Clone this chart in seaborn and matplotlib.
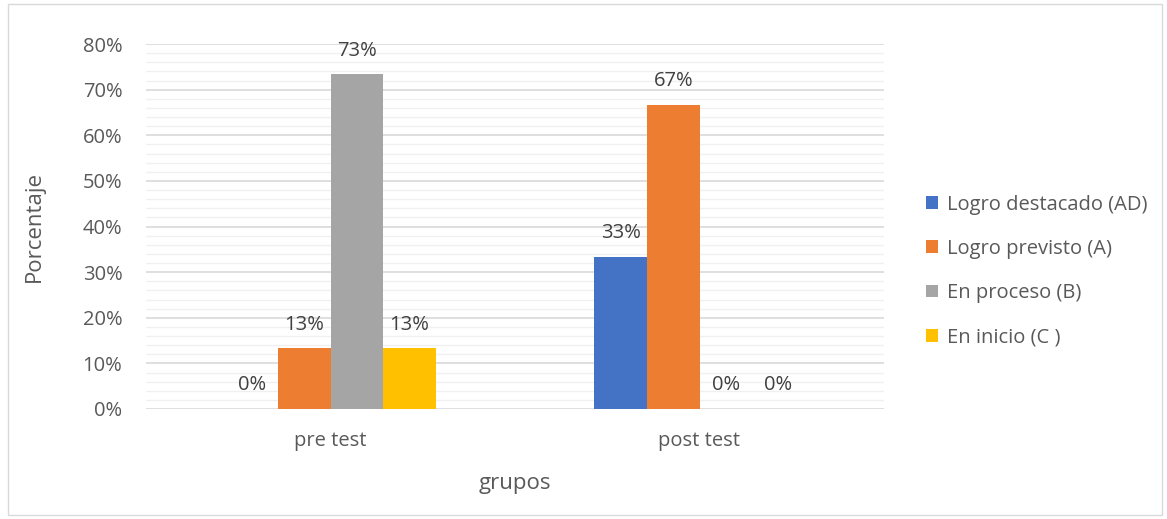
import matplotlib
matplotlib.use("Agg")
import matplotlib.pyplot as plt
import seaborn as sns
import pandas as pd
import numpy as np
from matplotlib.ticker import MultipleLocator, FuncFormatter
from matplotlib.patches import Rectangle

groups = ["pre test", "post test"]
series = ["Logro destacado (AD)", "Logro previsto (A)", "En proceso (B)", "En inicio (C )"]
pre_values = [0.0, 13.33, 73.33, 13.33]
post_values = [33.33, 66.67, 0.0, 0.0]
colors = ["#4472C4", "#ED7D31", "#A5A5A5", "#FFC000"]
yticks = [0, 10, 20, 30, 40, 50, 60, 70, 80]

rows = []
for s, v in zip(series, pre_values):
    rows.append({"grupo": groups[0], "serie": s, "valor": v})
for s, v in zip(series, post_values):
    rows.append({"grupo": groups[1], "serie": s, "valor": v})
df = pd.DataFrame(rows)

sns.set_style("white")
plt.rcParams["font.family"] = ["Open Sans", "DejaVu Sans"]

fig = plt.figure(figsize=(11.67, 5.19), dpi=100)
ax = fig.add_axes([146/1167, 110/519, 738/1167, 365/519])

sns.barplot(data=df, x="grupo", y="valor", hue="serie", order=groups,
            hue_order=series, palette=colors, width=0.57, ax=ax,
            saturation=1, legend=True, zorder=3, linewidth=0)

ax.set_ylim(0, 80)
ax.set_xlim(-0.5, 1.5)
ax.set_yticks(yticks)
ax.yaxis.set_major_formatter(FuncFormatter(lambda v, p: f"{int(v)}%"))
ax.yaxis.set_minor_locator(MultipleLocator(2))
ax.grid(axis="y", which="major", color="#D9D9D9", linewidth=1.2, zorder=0)
ax.grid(axis="y", which="minor", color="#F0F0F0", linewidth=1.0, zorder=0)
ax.set_axisbelow(True)
for sp in ax.spines.values():
    sp.set_visible(False)
ax.tick_params(axis="both", length=0, labelsize=14.5, colors="#595959")
ax.tick_params(axis="y", pad=17)
ax.tick_params(axis="x", pad=16)

ax.set_xlabel("grupos", fontsize=16, color="#595959", labelpad=16)
ax.set_ylabel("Porcentaje", fontsize=16, color="#595959", labelpad=27)

# value labels
for cont in ax.containers:
    for bar in cont:
        h = bar.get_height()
        x = bar.get_x() + bar.get_width() / 2
        ax.annotate(f"{h:.0f}%", (x, h), xytext=(0, 17), textcoords="offset points",
                    ha="center", va="center", fontsize=14.5, color="#404040", zorder=1)

leg = ax.legend(loc="center left", bbox_to_anchor=(1.032, 0.378), frameon=False,
                fontsize=14.5, handlelength=0.6, handleheight=0.6,
                labelspacing=1.2, handletextpad=0.45)
for t in leg.get_texts():
    t.set_color("#595959")

fig.patches.append(Rectangle((8/1167, 4/519), 1154/1167, 511/519, transform=fig.transFigure,
                             fill=False, edgecolor="#D9D9D9", linewidth=1))

fig.savefig("out.png", dpi=100)
